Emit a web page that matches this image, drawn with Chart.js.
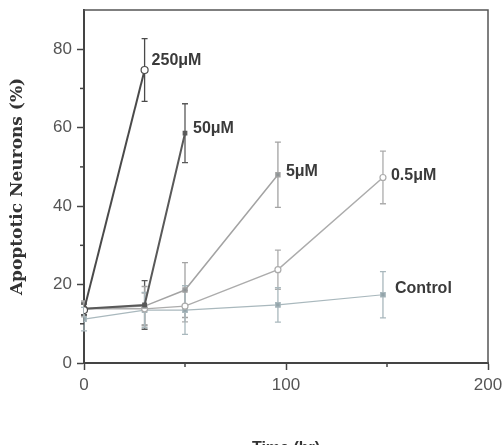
<!DOCTYPE html>
<html>
<head>
<meta charset="utf-8">
<script src="https://cdn.jsdelivr.net/npm/chart.js@4.4.1/dist/chart.umd.min.js"></script>
<style>
  html, body { margin: 0; padding: 0; background: #fff; overflow: hidden; }
  #wrap { width: 503px; height: 460px; }
</style>
</head>
<body>
<div id="wrap"><canvas id="apoChart" width="503" height="460"></canvas></div>
<script>
// time points (hr)
const times = [0, 30, 50, 96, 148];

// series names
const seriesNames = ['250μM', '50μM', '5μM', '0.5μM', 'Control'];

// % apoptotic neurons
const v250 = [13.5, 74.7, null, null, null];
const v50 = [13.8, 14.8, 58.6, null, null];
const v5 = [13.8, 14.5, 18.6, 48.0, null];
const v05 = [13.8, 13.8, 14.5, 23.8, 47.3];
const vCtrl = [11.2, 13.5, 13.5, 14.8, 17.4];

// error bars (+/-)
const e250 = [1.5, 8.0, null, null, null];
const e50 = [1.5, 6.2, 7.5, null, null];
const e5 = [2.0, 5.0, 7.0, 8.3, null];
const e05 = [2.0, 4.0, 4.0, 5.0, 6.7];
const eCtrl = [3.0, 4.5, 6.2, 4.4, 5.9];

const yTicks = [0, 20, 40, 60, 80];
const xTicks = [0, 100, 200];

function toPoints(vals) {
    return times.map(function (t, i) { return { x: t, y: vals[i] }; });
}

const styles = [
    { color: '#4a4a4a', width: 2, style: 'circle', r: 3.5, fill: '#ffffff', shift: [7, -9] },
    { color: '#595959', width: 2, style: 'rect', r: 2.5, fill: '#595959', shift: [8, -5] },
    { color: '#a3a3a3', width: 1.5, style: 'rect', r: 3, fill: '#8e9496', shift: [8, -3] },
    { color: '#acacac', width: 1.5, style: 'circle', r: 3, fill: '#ffffff', shift: [8, -2] },
    { color: '#a9b8bd', width: 1.2, style: 'rect', r: 3.2, fill: '#93a4aa', shift: [12, -6] }
];
const allVals = [v250, v50, v5, v05, vCtrl];
const allErr = [e250, e50, e5, e05, eCtrl];

const datasets = seriesNames.map(function (name, i) {
    const s = styles[i];
    return {
        label: name,
        data: toPoints(allVals[i]),
        err: allErr[i],
        borderColor: s.color,
        borderWidth: s.width,
        backgroundColor: s.fill,
        pointStyle: s.style,
        pointRadius: s.r,
        pointBorderWidth: 1.2,
        pointBackgroundColor: s.fill,
        pointBorderColor: s.color,
        tension: 0,
        spanGaps: false
    };
});

// vertical error bars with caps
const errorBars = {
    id: 'errorBars',
    beforeDatasetsDraw(chart) {
        const ctx = chart.ctx;
        const ys = chart.scales.y;
        chart.data.datasets.forEach(function (ds, di) {
            const meta = chart.getDatasetMeta(di);
            ctx.save();
            ctx.strokeStyle = ds.borderColor;
            ctx.lineWidth = 1.3;
            meta.data.forEach(function (pt, i) {
                const v = ds.data[i].y;
                const e = ds.err[i];
                if (v == null || e == null) return;
                const top = ys.getPixelForValue(v + e);
                const bot = ys.getPixelForValue(v - e);
                ctx.beginPath();
                ctx.moveTo(pt.x, top); ctx.lineTo(pt.x, bot);
                ctx.moveTo(pt.x - 3, top); ctx.lineTo(pt.x + 3, top);
                ctx.moveTo(pt.x - 3, bot); ctx.lineTo(pt.x + 3, bot);
                ctx.stroke();
            });
            ctx.restore();
        });
    }
};

// series names written next to their last point
const seriesLabels = {
    id: 'seriesLabels',
    afterDatasetsDraw(chart) {
        const ctx = chart.ctx;
        ctx.save();
        ctx.font = 'bold 16px "Liberation Sans", Arial, sans-serif';
        ctx.fillStyle = '#3a3a3a';
        ctx.textAlign = 'left';
        ctx.textBaseline = 'middle';
        chart.data.datasets.forEach(function (ds, di) {
            const meta = chart.getDatasetMeta(di);
            let last = -1;
            ds.data.forEach(function (p, i) { if (p.y != null) last = i; });
            const pt = meta.data[last];
            const sh = styles[di].shift;
            ctx.fillText(ds.label, pt.x + sh[0], pt.y + sh[1]);
        });
        ctx.restore();
    }
};

// frame on top / right plus small minor ticks
const frame = {
    id: 'frame',
    afterDraw(chart) {
        const a = chart.chartArea;
        const ctx = chart.ctx;
        const xs = chart.scales.x, ys = chart.scales.y;
        ctx.save();
        ctx.strokeStyle = '#555';
        ctx.lineWidth = 1.5;
        ctx.beginPath();
        ctx.moveTo(a.left, a.top); ctx.lineTo(a.right, a.top); ctx.lineTo(a.right, a.bottom);
        ctx.stroke();
        ctx.lineWidth = 1.5;
        ctx.strokeStyle = '#444';
        [10, 30, 50, 70].forEach(function (v) {
            const y = ys.getPixelForValue(v);
            ctx.beginPath(); ctx.moveTo(a.left - 4, y); ctx.lineTo(a.left, y); ctx.stroke();
        });
        [50, 150].forEach(function (v) {
            const x = xs.getPixelForValue(v);
            ctx.beginPath(); ctx.moveTo(x, a.bottom); ctx.lineTo(x, a.bottom + 4); ctx.stroke();
        });
        ctx.restore();
    }
};

new Chart(document.getElementById('apoChart'), {
    type: 'line',
    data: { datasets: datasets },
    options: {
        responsive: false,
        animation: false,
        devicePixelRatio: 1,
        layout: { padding: { top: 10, right: 15, left: 0, bottom: 0 } },
        plugins: { legend: { display: false }, tooltip: { enabled: false } },
        scales: {
            x: {
                type: 'linear',
                min: 0,
                max: 200,
                afterFit: function (s) {
                    s.height = 97;
                    s.paddingLeft = 0;
                    s.paddingRight = 0;
                },
                afterBuildTicks: function (s) {
                    s.ticks = xTicks.map(function (v) { return { value: v }; });
                },
                ticks: {
                    color: '#555',
                    font: { size: 17, family: '"Liberation Sans", Arial, sans-serif' },
                    padding: 5,
                    maxRotation: 0
                },
                grid: { drawOnChartArea: false, tickLength: 7, tickColor: '#444', tickWidth: 1.5 },
                border: { color: '#444', width: 2 },
                title: {
                    display: true,
                    text: 'Time (hr)',
                    color: '#333',
                    font: { size: 16, weight: 'bold', family: '"Liberation Sans", Arial, sans-serif' },
                    padding: { top: 0, bottom: 2 }
                }
            },
            y: {
                min: 0,
                max: 90,
                afterFit: function (s) {
                    s.width = 84;
                    s.paddingTop = 0;
                    s.paddingBottom = 0;
                },
                afterBuildTicks: function (s) {
                    s.ticks = yTicks.map(function (v) { return { value: v }; });
                },
                ticks: {
                    color: '#555',
                    font: { size: 17, family: '"Liberation Sans", Arial, sans-serif' },
                    padding: 5
                },
                grid: { drawOnChartArea: false, tickLength: 7, tickColor: '#444', tickWidth: 1.5 },
                border: { color: '#444', width: 2 },
                title: {
                    display: true,
                    text: 'Apoptotic Neurons (%)',
                    color: '#333',
                    font: { size: 17, weight: 'bold', family: '"DejaVu Serif", "Liberation Serif", serif' },
                    padding: { top: 7, bottom: 0 }
                }
            }
        }
    },
    plugins: [errorBars, seriesLabels, frame]
});
</script>
</body>
</html>
